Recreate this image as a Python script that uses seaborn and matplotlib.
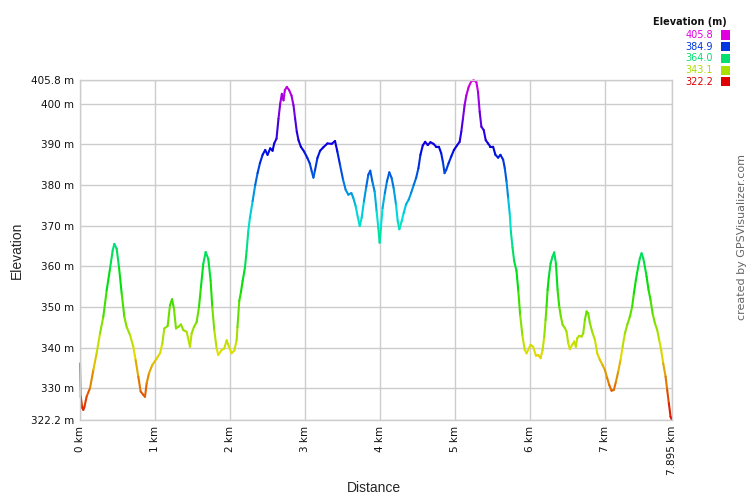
import numpy as np
import pandas as pd
import matplotlib
matplotlib.use("Agg")
import matplotlib.pyplot as plt
from matplotlib.colors import hsv_to_rgb
from matplotlib.patches import Rectangle
import seaborn as sns

# distance along the track (km) and elevation (m)
distance_km = [
    0.0, 0.01, 0.03, 0.044, 0.06, 0.089, 0.133, 0.178, 0.222, 0.267, 0.311, 0.356,
    0.4, 0.436, 0.458, 0.489, 0.52, 0.556, 0.591, 0.622, 0.667, 0.711, 0.742, 0.778,
    0.809, 0.844, 0.867, 0.889, 0.92, 0.964, 1.022, 1.067, 1.098, 1.124, 1.169, 1.2,
    1.227, 1.253, 1.28, 1.311, 1.347, 1.378, 1.422, 1.467, 1.489, 1.52, 1.556, 1.587,
    1.613, 1.644, 1.676, 1.711, 1.742, 1.764, 1.791, 1.822, 1.844, 1.889, 1.924, 1.956,
    1.987, 2.022, 2.058, 2.089, 2.1, 2.124, 2.146, 2.169, 2.2, 2.222, 2.244, 2.266,
    2.302, 2.337, 2.368, 2.399, 2.435, 2.47, 2.501, 2.537, 2.568, 2.59, 2.621, 2.647,
    2.67, 2.692, 2.714, 2.732, 2.758, 2.789, 2.82, 2.847, 2.869, 2.891, 2.914, 2.945,
    2.989, 3.033, 3.064, 3.091, 3.113, 3.135, 3.166, 3.202, 3.242, 3.3, 3.357, 3.401,
    3.432, 3.468, 3.508, 3.543, 3.579, 3.619, 3.645, 3.676, 3.707, 3.73, 3.756, 3.787,
    3.818, 3.845, 3.871, 3.898, 3.929, 3.956, 3.978, 3.996, 4.013, 4.035, 4.066, 4.094,
    4.125, 4.156, 4.183, 4.214, 4.237, 4.259, 4.29, 4.317, 4.348, 4.384, 4.415, 4.451,
    4.482, 4.513, 4.54, 4.571, 4.603, 4.638, 4.674, 4.714, 4.75, 4.786, 4.817, 4.839,
    4.862, 4.884, 4.915, 4.951, 4.987, 5.027, 5.063, 5.085, 5.107, 5.129, 5.152, 5.183,
    5.219, 5.25, 5.286, 5.308, 5.33, 5.353, 5.384, 5.411, 5.442, 5.473, 5.509, 5.54,
    5.576, 5.607, 5.643, 5.665, 5.688, 5.71, 5.732, 5.746, 5.768, 5.79, 5.821, 5.845,
    5.87, 5.9, 5.93, 5.956, 6.009, 6.044, 6.08, 6.111, 6.142, 6.169, 6.191, 6.209,
    6.222, 6.236, 6.253, 6.276, 6.302, 6.324, 6.347, 6.369, 6.391, 6.413, 6.436, 6.467,
    6.489, 6.511, 6.533, 6.564, 6.591, 6.613, 6.631, 6.658, 6.689, 6.711, 6.733, 6.756,
    6.778, 6.8, 6.831, 6.867, 6.898, 6.933, 6.969, 7.0, 7.031, 7.058, 7.089, 7.12,
    7.147, 7.178, 7.209, 7.236, 7.267, 7.298, 7.333, 7.364, 7.387, 7.413, 7.444, 7.467,
    7.489, 7.511, 7.533, 7.556, 7.582, 7.609, 7.636, 7.667, 7.698, 7.724, 7.751, 7.778,
    7.809, 7.831, 7.853, 7.876, 7.895,
]
elevation_m = [
    336.1, 328.0, 325.2, 324.7, 325.5, 328.0, 330.0, 334.5, 338.6, 343.5, 347.6, 354.1,
    359.4, 363.9, 365.5, 364.3, 359.8, 353.3, 347.6, 345.1, 343.1, 340.2, 336.9, 332.8,
    329.2, 328.4, 327.9, 331.2, 333.7, 335.7, 337.3, 338.6, 341.0, 344.7, 345.3, 350.4,
    351.9, 349.6, 344.7, 345.1, 345.7, 344.3, 343.9, 340.2, 343.5, 345.1, 346.3, 350.0,
    354.9, 360.6, 363.5, 361.8, 356.5, 350.0, 344.3, 339.8, 338.2, 339.4, 339.8, 341.8,
    340.2, 338.6, 339.3, 341.8, 345.0, 351.5, 353.6, 356.4, 359.7, 363.8, 368.6, 371.9,
    376.0, 380.0, 382.9, 385.3, 387.4, 388.6, 387.4, 389.0, 388.4, 390.2, 391.4, 396.3,
    400.0, 402.4, 400.8, 403.3, 404.1, 403.3, 402.0, 399.6, 396.3, 393.1, 391.0, 389.4,
    388.2, 386.6, 385.3, 383.3, 381.8, 383.7, 386.6, 388.4, 389.2, 390.2, 390.1, 390.8,
    388.2, 384.9, 381.3, 378.8, 377.6, 378.0, 376.8, 374.8, 371.9, 369.9, 371.9, 376.0,
    379.6, 382.5, 383.5, 380.9, 378.4, 373.5, 369.5, 365.8, 369.5, 374.3, 378.0, 380.9,
    383.1, 381.7, 379.2, 375.2, 371.1, 369.1, 371.1, 373.1, 375.2, 376.4, 378.0, 380.0,
    381.7, 384.1, 387.4, 389.7, 390.6, 389.8, 390.5, 390.1, 389.4, 389.4, 387.8, 385.7,
    382.9, 383.7, 385.3, 387.0, 388.6, 389.7, 390.6, 393.1, 396.3, 399.6, 402.0, 404.1,
    405.5, 405.7, 405.3, 402.9, 398.0, 394.3, 393.5, 391.0, 390.2, 389.4, 389.4, 387.4,
    386.7, 387.4, 386.2, 384.1, 380.9, 376.8, 372.7, 368.6, 364.6, 361.3, 358.9, 354.0,
    348.0, 343.0, 339.5, 338.6, 340.7, 340.2, 338.0, 338.2, 337.4, 339.4, 342.7, 346.8,
    350.1, 354.2, 357.5, 360.7, 362.4, 363.4, 360.7, 354.2, 350.1, 347.6, 345.6, 344.8,
    343.9, 341.1, 339.6, 340.7, 341.5, 340.2, 342.3, 342.9, 342.7, 343.5, 346.8, 348.9,
    348.4, 346.0, 343.9, 341.9, 338.6, 337.0, 335.7, 334.5, 332.5, 330.8, 329.4, 329.6,
    331.6, 334.1, 337.0, 340.2, 343.5, 345.6, 347.6, 350.1, 353.4, 356.6, 359.9, 362.0,
    363.2, 362.0, 359.9, 357.5, 354.2, 351.7, 348.4, 346.0, 344.3, 341.9, 339.4, 336.1,
    332.9, 329.6, 326.3, 323.0, 322.2,
]

legend_values = [405.8, 384.9, 364.0, 343.1, 322.2]
y_ticks = [322.2, 330, 340, 350, 360, 370, 380, 390, 400, 405.8]
x_ticks = [0, 1, 2, 3, 4, 5, 6, 7, 7.895]
x_labels = ["0 km", "1 km", "2 km", "3 km", "4 km", "5 km", "6 km", "7 km", "7.895 km"]

ELEV_MIN, ELEV_MAX = 322.2, 405.8


def elev_color(v):
    # red -> yellow -> green -> blue -> magenta, like the GPSVisualizer scale
    frac = np.clip((v - ELEV_MIN) / (ELEV_MAX - ELEV_MIN), 0, 1)
    return hsv_to_rgb([frac * 300 / 360, 1.0, 0.88])


# one tiny two-point line per segment so every piece gets its own colour
rows = []
palette = {}
for i in range(len(distance_km) - 1):
    seg = f"s{i}"
    rows.append((seg, distance_km[i], elevation_m[i]))
    rows.append((seg, distance_km[i + 1], elevation_m[i + 1]))
    palette[seg] = elev_color((elevation_m[i] + elevation_m[i + 1]) / 2)
df = pd.DataFrame(rows, columns=["seg", "km", "elev"])

sns.set_style("whitegrid", {"grid.color": "#cccccc", "axes.edgecolor": "#cccccc"})
plt.rcParams["font.family"] = ["DejaVu Sans"]

fig = plt.figure(figsize=(7.5, 5), dpi=100)
ax = fig.add_axes([80 / 750, 80 / 500, 592 / 750, 340 / 500])

sns.lineplot(data=df, x="km", y="elev", hue="seg", palette=palette, legend=False,
             estimator=None, sort=False, linewidth=1.5, solid_capstyle="round",
             clip_on=False, ax=ax)

ax.set_xlim(0, 7.895)
ax.set_ylim(ELEV_MIN, ELEV_MAX)
ax.set_xticks(x_ticks)
ax.set_xticklabels(x_labels, rotation=90)
ax.set_yticks(y_ticks)
ax.set_yticklabels([f"{v:g} m" for v in y_ticks])
ax.tick_params(length=0, pad=4, labelsize=7.5, colors="#111111")
ax.grid(True, color="#cccccc", linewidth=1)
for sp in ax.spines.values():
    sp.set_color("#cccccc")
    sp.set_linewidth(1)
ax.set_xlabel("")
ax.set_ylabel("")

fig.text(17 / 750, 1 - 250 / 500, "Elevation", rotation=90, ha="center", va="center",
         fontsize=10, family=["Liberation Sans", "DejaVu Sans"])
fig.text(374 / 750, 1 - 488 / 500, "Distance", ha="center", va="center",
         fontsize=10, family=["Liberation Sans", "DejaVu Sans"])
fig.text(742 / 750, 1 - 237 / 500, "created by GPSVisualizer.com", rotation=90,
         ha="center", va="center", fontsize=8, color="#666666")

# elevation legend in the top right corner
fig.text(727 / 750, 1 - 22 / 500, "Elevation (m)", ha="right", va="center",
         fontsize=7, fontweight="bold", color="#111111")
row_y = [35, 46.7, 58.4, 70.1, 81.8]
for val, yy in zip(legend_values, row_y):
    col = elev_color(val)
    fig.text(713 / 750, 1 - yy / 500, f"{val:.1f}", ha="right", va="center",
             fontsize=7, color=col)
    fig.patches.append(Rectangle((721 / 750, 1 - (yy + 4.5) / 500), 9 / 750, 9 / 500,
                                 transform=fig.transFigure, facecolor=col,
                                 edgecolor="none"))

fig.savefig("out.png", dpi=100)
